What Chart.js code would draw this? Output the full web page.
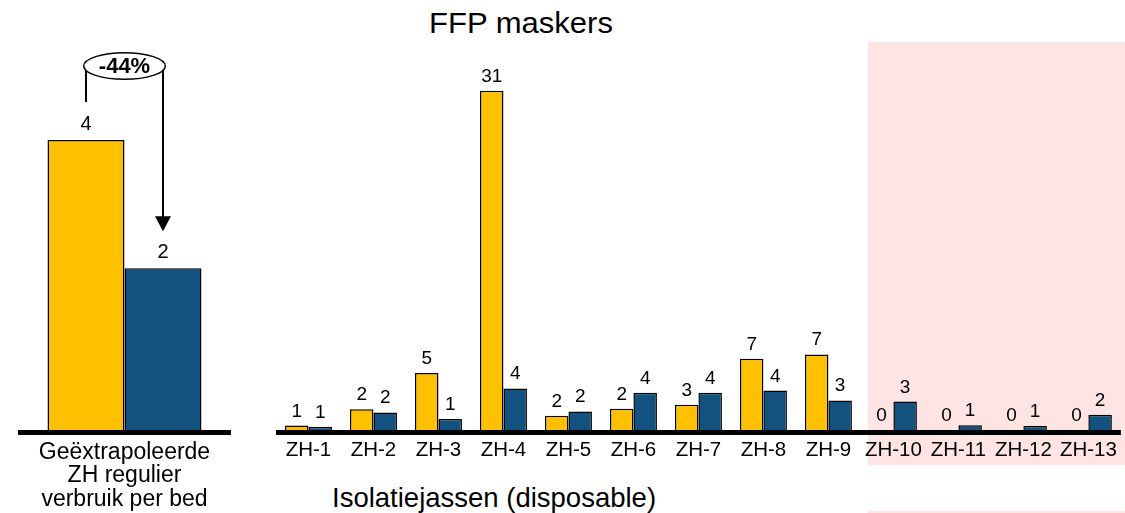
<!DOCTYPE html>
<html><head><meta charset="utf-8">
<script src="https://cdn.jsdelivr.net/npm/chart.js@4.4.1/dist/chart.umd.min.js"></script>
<style>
html,body{margin:0;padding:0;background:#fff;width:1125px;height:513px;overflow:hidden;position:relative;font-family:"Liberation Sans",Arial,sans-serif;}
#left{position:absolute;left:0;top:0;}
#right{position:absolute;left:250px;top:0;}
.t{position:absolute;white-space:nowrap;line-height:1;color:#000;}
#title{left:521px;top:8.6px;font-size:29px;transform:translateX(-50%) scaleX(1.07);}
#sub{left:332px;top:484px;font-size:27.5px;}
</style></head><body>
<div class="t" id="title">FFP maskers</div>
<div class="t" id="sub">Isolatiejassen (disposable)</div>
<canvas id="left" width="250" height="513"></canvas>
<canvas id="right" width="875" height="513"></canvas>
<script>
// ---- data ----
const leftCategory = [["Geëxtrapoleerde", "ZH regulier", "verbruik per bed"]];
const leftYellow = [4.0];
const leftBlue = [2.23];
const leftYellowLabels = ["4"];
const leftBlueLabels = ["2"];

const hospitals = ["ZH-1","ZH-2","ZH-3","ZH-4","ZH-5","ZH-6","ZH-7","ZH-8","ZH-9","ZH-10","ZH-11","ZH-12","ZH-13"];
const yellowValues = [0.4, 1.9, 5.2, 31, 1.3, 1.95, 2.3, 6.5, 6.9, 0, 0, 0, 0];
const blueValues   = [0.3, 1.6, 1.0, 3.8, 1.7, 3.4, 3.4, 3.6, 2.7, 2.6, 0.43, 0.37, 1.4];
const yellowLabels = ["1","2","5","31","2","2","3","7","7","0","0","0","0"];
const blueLabels   = ["1","2","1","4","2","4","4","4","3","3","1","1","2"];

// ---- styles ----
const FONT = '"Liberation Sans", Arial, sans-serif';
const YELLOW = '#FFC000';
const BLUE = '#13517F';
const PINK = '#FFE4E4';

function valueLabelPlugin(labelSets, size, gap) {
  return {
    id: 'valueLabels',
    afterDatasetsDraw(chart) {
      const ctx = chart.ctx;
      ctx.save();
      ctx.fillStyle = '#000';
      ctx.font = size + 'px ' + FONT;
      ctx.textAlign = 'center';
      ctx.textBaseline = 'alphabetic';
      labelSets.forEach((labels, di) => {
        chart.getDatasetMeta(di).data.forEach((el, i) => {
          ctx.fillText(labels[i], el.x, el.y - gap);
        });
      });
      ctx.restore();
    }
  };
}
const axisLinePlugin = {
  id: 'axisLine',
  afterDatasetsDraw(chart) {
    const a = chart.chartArea;
    chart.ctx.save();
    chart.ctx.fillStyle = '#000';
    chart.ctx.fillRect(a.left, a.bottom, a.right - a.left, 5);
    chart.ctx.restore();
  }
};

function baseOptions(yMax, padding, tickFont, tickPad) {
  return {
    animation: false,
    responsive: false,
    devicePixelRatio: 1,
    layout: { padding: padding },
    plugins: { legend: { display: false }, tooltip: { enabled: false }, title: { display: false } },
    scales: {
      x: {
        grid: { display: false, drawTicks: false },
        border: { display: false },
        ticks: { color: '#000', font: tickFont, padding: tickPad, maxRotation: 0, autoSkip: false },
        afterFit(s) { s.height = 83; }
      },
      y: { display: false, min: 0, max: yMax }
    }
  };
}

const barStyle = { borderColor: '#000', borderWidth: 1.5, categoryPercentage: 0.723, barPercentage: 1.0 };

// ---- left chart ----
const annotationPlugin = {
  id: 'annot',
  afterDraw(chart) {
    const ctx = chart.ctx;
    const a = chart.getDatasetMeta(0).data[0];
    const b = chart.getDatasetMeta(1).data[0];
    const xL = a.x, xR = b.x;
    const cx = (xL + xR) / 2, rx = (xR - xL) / 2 + 2.3, ry = 13.3, cy = a.y - 74;
    const edge = (x) => ry * Math.sqrt(Math.max(0, 1 - Math.pow((x - cx) / rx, 2)));
    ctx.save();
    ctx.strokeStyle = '#000';
    ctx.fillStyle = '#000';
    ctx.lineWidth = 2;
    ctx.beginPath(); ctx.moveTo(xL, cy + edge(xL)); ctx.lineTo(xL, a.y - 38); ctx.stroke();
    const tipY = b.y - 37;
    ctx.beginPath(); ctx.moveTo(xR, cy + edge(xR)); ctx.lineTo(xR, tipY - 12); ctx.stroke();
    ctx.beginPath(); ctx.moveTo(xR - 8, tipY - 15); ctx.lineTo(xR + 8, tipY - 15); ctx.lineTo(xR, tipY); ctx.closePath(); ctx.fill();
    ctx.beginPath(); ctx.ellipse(cx, cy, rx, ry, 0, 0, Math.PI * 2);
    ctx.fillStyle = '#fff'; ctx.fill();
    ctx.lineWidth = 1.5; ctx.stroke();
    const pct = Math.round((leftBlue[0] / leftYellow[0] - 1) * 100);
    ctx.fillStyle = '#000';
    ctx.font = 'bold 22px ' + FONT;
    ctx.textAlign = 'center'; ctx.textBaseline = 'middle';
    ctx.fillText(pct + '%', cx, cy + 1);
    ctx.restore();
  }
};

new Chart(document.getElementById('left'), {
  type: 'bar',
  data: {
    labels: leftCategory,
    datasets: [
      Object.assign({ data: leftYellow, backgroundColor: YELLOW }, barStyle),
      Object.assign({ data: leftBlue, backgroundColor: BLUE }, barStyle)
    ]
  },
  options: baseOptions(5, { left: 18, right: 19, top: 67.5, bottom: 0 },
    { family: FONT, size: 23, lineHeight: 1.013 }, 11),
  plugins: [axisLinePlugin, valueLabelPlugin([leftYellowLabels, leftBlueLabels], 20, 10), annotationPlugin]
});

// ---- right chart ----
const shadePlugin = {
  id: 'shade',
  beforeDraw(chart) {
    const x = chart.scales.x, a = chart.chartArea, ctx = chart.ctx;
    const cw = x.getPixelForValue(1) - x.getPixelForValue(0);
    const left = x.getPixelForValue(9) - cw * 0.39;
    ctx.save();
    ctx.fillStyle = PINK;
    ctx.fillRect(left, a.top - 5, chart.width - left, a.bottom + 35 - (a.top - 5));
    ctx.fillRect(left, chart.height - 2, chart.width - left, 2);
    ctx.restore();
  }
};

new Chart(document.getElementById('right'), {
  type: 'bar',
  data: {
    labels: hospitals,
    datasets: [
      Object.assign({ data: yellowValues, backgroundColor: YELLOW }, barStyle),
      Object.assign({ data: blueValues, backgroundColor: BLUE }, barStyle)
    ]
  },
  options: baseOptions(35, { left: 26, right: 4, top: 47, bottom: 0 },
    { family: FONT, size: 20.5, lineHeight: 1.2 }, 8),
  plugins: [shadePlugin, axisLinePlugin, valueLabelPlugin([yellowLabels, blueLabels], 19, 9)]
});
</script>
</body></html>
